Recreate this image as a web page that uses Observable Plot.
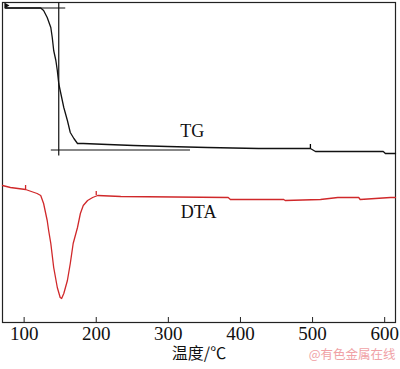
<!DOCTYPE html>
<html>
<head>
<meta charset="utf-8">
<script src="https://cdn.jsdelivr.net/npm/d3@7"></script>
<script src="https://cdn.jsdelivr.net/npm/@observablehq/plot@0.6"></script>
<style>
  html, body { margin: 0; padding: 0; background: #fff; }
  #chart svg { display: block; }
</style>
</head>
<body>
<div id="chart"></div>
<script>
// Temperature (°C) and signal (arbitrary units)
const tgTemp = [74, 123, 127, 132, 137, 139, 141, 144, 146, 148, 150, 155, 160, 164, 169, 174, 182, 216, 252, 299, 354, 425, 497, 504, 598, 601, 615];
const tgValue = [314.5, 314.5, 312, 305, 295, 285, 272, 262, 252, 239, 232, 215, 202, 190, 184, 179, 179, 178, 177, 176, 175, 174, 174, 171, 171, 169, 169];

const dtaTemp = [70, 81, 102, 118, 123, 127, 132, 134, 137, 141, 146, 150, 152, 155, 160, 164, 168, 174, 178, 182, 188, 195, 202, 234, 383, 386, 460, 462, 511, 535, 564, 566, 608, 615];
const dtaValue = [137, 135, 133, 129, 127, 119, 102, 92, 79, 55, 35, 25, 24, 29, 42, 59, 79, 95, 109, 117, 122, 125, 127, 126, 125, 123, 123, 122, 123, 125, 125, 123, 125, 125];

const xTicks = [100, 200, 300, 400, 500, 600];
const curveLabels = ["TG", "DTA"];
const labelTemp = [333, 342];
const labelValue = [191, 110];
const xTitle = "温度/℃";
const watermark = "@有色金属在线";

// TG step-analysis construction lines
const stepLines = [
  {x1: 74, x2: 157, y1: 314.5, y2: 314.5},
  {x1: 148, x2: 148, y1: 320, y2: 167},
  {x1: 137, x2: 330, y1: 172.5, y2: 172.5}
];
const smallMarks = [
  {x: 497, y1: 174, y2: 178, c: "#000"},
  {x: 102, y1: 133, y2: 137, c: "#d0282a"},
  {x: 200, y1: 127, y2: 131, c: "#d0282a"}
];

const tg = tgTemp.map((t, i) => ({t, v: tgValue[i]}));
const dta = dtaTemp.map((t, i) => ({t, v: dtaValue[i]}));
const labels = curveLabels.map((s, i) => ({s, t: labelTemp[i], v: labelValue[i]}));

const serif = "'Liberation Serif', 'Times New Roman', serif";

const chart = Plot.plot({
  width: 400,
  height: 369,
  marginLeft: 2,
  marginRight: 5,
  marginTop: 2,
  marginBottom: 47,
  style: {background: "#fff", fontFamily: serif},
  x: {domain: [70, 615], ticks: xTicks},
  y: {domain: [0, 320], axis: null},
  marks: [
    Plot.frame({stroke: "#222", strokeWidth: 1.2}),
    Plot.ruleX(xTicks, {y1: 0, y2: 5, stroke: "#222"}),
    Plot.axisX({ticks: xTicks, tickSize: 0, tickPadding: 4, fontSize: 19, fontFamily: serif, fill: "#111", tickFormat: d => String(d)}),
    Plot.link(stepLines, {x1: "x1", x2: "x2", y1: "y1", y2: "y2", stroke: "#111", strokeWidth: 1.2}),
    Plot.line(tg, {x: "t", y: "v", stroke: "#111", strokeWidth: 1.3}),
    Plot.line(dta, {x: "t", y: "v", stroke: "#d0282a", strokeWidth: 1.3}),
    Plot.ruleX(smallMarks, {x: "x", y1: "y1", y2: "y2", stroke: "c", strokeWidth: 1.3}),
    Plot.dot([{t: 75, v: 317}], {x: "t", y: "v", symbol: "triangle", rotate: 90, r: 2.2, fill: "#111", stroke: "none"}),
    Plot.text(labels, {x: "t", y: "v", text: "s", fontSize: 18, fontFamily: serif, fill: "#111"}),
    Plot.text([xTitle], {frameAnchor: "bottom", dy: 36, fontSize: 16, fontFamily: "'Noto Sans CJK SC', sans-serif", fill: "#111"}),
    Plot.text([watermark], {frameAnchor: "bottom-right", dy: 36, dx: 0, textAnchor: "end", fontSize: 12.5, fontFamily: "'Noto Sans CJK SC', sans-serif", fill: "#f0a2a6"})
  ]
});
document.getElementById("chart").appendChild(chart);
</script>
</body>
</html>
